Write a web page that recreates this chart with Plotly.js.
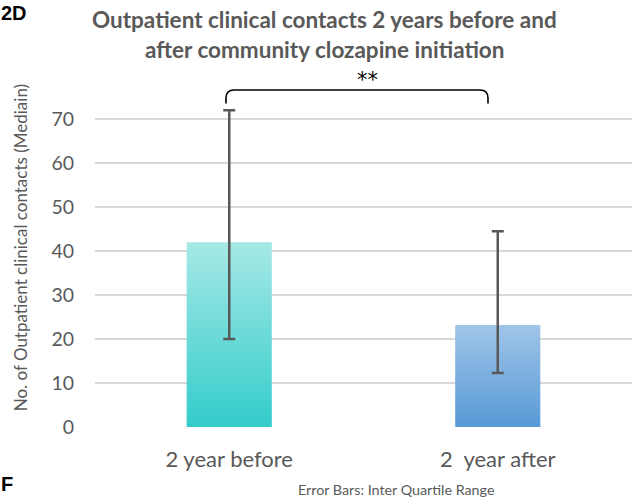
<!DOCTYPE html>
<html>
<head>
<meta charset="utf-8">
<script src="https://cdn.plot.ly/plotly-3.0.1.min.js"></script>
<style>html,body{margin:0;padding:0;background:#fff;}#chart{width:635px;height:501px;}</style>
</head>
<body>
<div id="chart"></div>
<script>
// ---- data ----
const categories = ["2 year before", "2\u00a0 year after"];
const medians = [42, 23.2];
const q1 = [20, 12.3];
const q3 = [72, 44.5];
const yTicks = [0, 10, 20, 30, 40, 50, 60, 70];
const yTitle = "No. of Outpatient clinical contacts (Mediain)";
const significance = "**";
const footnote = "Error Bars: Inter Quartile Range";

// ---- styles ----
const topColors = ["#a6e9e6", "#a0c5e8"];
const bottomColors = ["#33cccb", "#5899d6"];
const halfWidth = 0.1585;
const grey = "#595959";

const traces = [];
categories.forEach((c, i) => {
  traces.push({
    type: "scatter",
    mode: "none",
    x: [i - halfWidth, i - halfWidth, i + halfWidth, i + halfWidth, i - halfWidth],
    y: [0, medians[i], medians[i], 0, 0],
    fill: "toself",
    fillgradient: {type: "vertical", colorscale: [[0, bottomColors[i]], [1, topColors[i]]]},
    hoverinfo: "skip",
    showlegend: false
  });
});
traces.push({
  type: "scatter",
  mode: "markers",
  x: categories.map((c, i) => i),
  y: medians,
  marker: {size: 1, opacity: 0},
  error_y: {
    type: "data", symmetric: false,
    array: medians.map((m, i) => q3[i] - m),
    arrayminus: medians.map((m, i) => m - q1[i]),
    color: grey, thickness: 2.5, width: 6
  },
  showlegend: false
});

// plot-area geometry helpers (paper coords)
const L = 95, R = 3, T = 96.5, B = 74, W = 635, H = 501;
const pw = W - L - R, ph = H - T - B;
const px = x => (x - L) / pw;
const py = y => (H - B - y) / ph;

const x1 = px(226), x2 = px(488), yTop = py(89.5), yEnd = py(103);
const dx = 8 / pw, dy = 8 / ph;
const bracket = `M ${x1},${yEnd} L ${x1},${yTop - dy} Q ${x1},${yTop} ${x1 + dx},${yTop} L ${x2 - dx},${yTop} Q ${x2},${yTop} ${x2},${yTop - dy} L ${x2},${yEnd}`;

const layout = {
  width: 635, height: 501,
  margin: {l: L, r: R, t: T, b: B, pad: 0},
  paper_bgcolor: "#fff", plot_bgcolor: "#fff",
  font: {family: "Lato, 'Open Sans', sans-serif", color: grey},
  xaxis: {
    range: [-0.5, 1.5], tickvals: [0, 1], ticktext: categories,
    showgrid: false, zeroline: false, showline: false,
    ticks: "outside", ticklen: 13, tickcolor: "rgba(0,0,0,0)",
    tickfont: {size: 22, color: grey}, fixedrange: true
  },
  yaxis: {
    range: [0, 75], tickvals: yTicks,
    showgrid: true, gridcolor: "#d9d9d9", gridwidth: 1.5,
    zeroline: false, showline: false,
    ticks: "outside", ticklen: 16, tickcolor: "rgba(0,0,0,0)",
    tickfont: {size: 19.5, color: grey}
  },
  shapes: [{type: "path", xref: "paper", yref: "paper", path: bracket, line: {color: "#000", width: 1.6}}],
  annotations: [
    {text: "<b>Outpatient clinical contacts 2 years before and</b>", xref: "paper", yref: "paper",
     x: px(324), y: py(19), xanchor: "center", yanchor: "middle", showarrow: false, font: {size: 22.5, color: grey}},
    {text: "<b>after community clozapine initiation</b>", xref: "paper", yref: "paper",
     x: px(324), y: py(49), xanchor: "center", yanchor: "middle", showarrow: false, font: {size: 22.5, color: grey}},
    {text: yTitle, xref: "paper", yref: "paper", x: px(20), y: py(248), xanchor: "center", yanchor: "middle",
     textangle: -90, showarrow: false, font: {size: 17, color: grey}},
    {text: significance, xref: "paper", yref: "paper", x: px(367), y: py(79), xanchor: "center", yanchor: "middle",
     showarrow: false, font: {size: 21, color: "#000", family: "'DejaVu Sans', sans-serif"}},
    {text: footnote, xref: "paper", yref: "paper", x: px(396), y: py(490), xanchor: "center", yanchor: "middle",
     showarrow: false, font: {size: 14.3, color: grey}},
    {text: "<b>2D</b>", xref: "paper", yref: "paper", x: px(0), y: py(0), xanchor: "left", yanchor: "top",
     showarrow: false, borderpad: 0, font: {size: 20, color: "#000", family: "'Liberation Sans', Arial, sans-serif"}},
    {text: "<b>F</b>", xref: "paper", yref: "paper", x: px(0), y: py(484), xanchor: "left", yanchor: "middle",
     showarrow: false, borderpad: 0, font: {size: 20, color: "#000", family: "'Liberation Sans', Arial, sans-serif"}}
  ]
};

Plotly.newPlot("chart", traces, layout, {displayModeBar: false, staticPlot: true});
</script>
</body>
</html>
